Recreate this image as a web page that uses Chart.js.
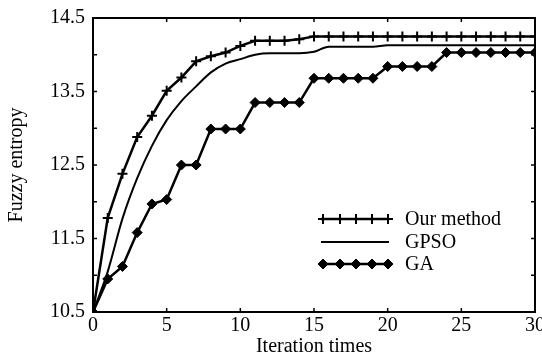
<!DOCTYPE html>
<html>
<head>
<meta charset="utf-8">
<script src="https://cdn.jsdelivr.net/npm/chart.js"></script>
<style>
    body { margin: 0; background: #fff; }
    #chart { display: block; }
</style>
</head>
<body>
<canvas id="chart" width="542" height="357"></canvas>
<script>
var iterations = [0, 1, 2, 3, 4, 5, 6, 7, 8, 9, 10, 11, 12, 13, 14, 15, 16, 17, 18, 19, 20, 21, 22, 23, 24, 25, 26, 27, 28, 29, 30];
var our_method = [10.5, 11.78, 12.38, 12.88, 13.17, 13.51, 13.69, 13.91, 13.98, 14.03, 14.12, 14.19, 14.19, 14.19, 14.21,
    14.25, 14.25, 14.25, 14.25, 14.25, 14.25, 14.25, 14.25, 14.25, 14.25, 14.25, 14.25, 14.25, 14.25, 14.25, 14.25];
var gpso = [10.5, 11.05, 11.77, 12.32, 12.76, 13.11, 13.37, 13.57, 13.76, 13.88, 13.94, 14.0, 14.02, 14.02, 14.02,
    14.04, 14.11, 14.11, 14.11, 14.11, 14.13, 14.13, 14.13, 14.13, 14.13, 14.13, 14.13, 14.13, 14.13, 14.13, 14.13];
var ga = [10.5, 10.95, 11.12, 11.58, 11.97, 12.03, 12.5, 12.5, 12.99, 12.99, 12.99, 13.35, 13.35, 13.35, 13.35,
    13.68, 13.68, 13.68, 13.68, 13.68, 13.84, 13.84, 13.84, 13.84, 14.03, 14.03, 14.03, 14.03, 14.03, 14.03, 14.03];
var series_names = ['Our method', 'GPSO', 'GA'];

var font_family = '"Liberation Serif", "Times New Roman", serif';

function to_points(values) {
    return iterations.map(function (x, i) { return { x: x, y: values[i] }; });
}

// frame round the plot, with ticks pointing inwards on all four sides
var frame_plugin = {
    id: 'frame',
    afterDraw: function (chart) {
        var ctx = chart.ctx;
        var a = chart.chartArea;
        var xs = chart.scales.x;
        var ys = chart.scales.y;
        ctx.save();
        ctx.strokeStyle = '#000';
        ctx.lineWidth = 1.5;
        xs.ticks.forEach(function (t) {
            if (t.value <= xs.min || t.value >= xs.max) return;
            var px = xs.getPixelForValue(t.value);
            ctx.beginPath();
            ctx.moveTo(px, a.bottom); ctx.lineTo(px, a.bottom - 4);
            ctx.moveTo(px, a.top); ctx.lineTo(px, a.top + 4);
            ctx.stroke();
        });
        ys.ticks.forEach(function (t) {
            if (t.value <= ys.min || t.value >= ys.max) return;
            var py = ys.getPixelForValue(t.value);
            ctx.beginPath();
            ctx.moveTo(a.left, py); ctx.lineTo(a.left + 4, py);
            ctx.moveTo(a.right, py); ctx.lineTo(a.right - 4, py);
            ctx.stroke();
        });
        ctx.lineWidth = 2;
        ctx.strokeRect(a.left, a.top, a.right - a.left, a.bottom - a.top);
        ctx.restore();
    }
};

// legend with several markers on each sample line, like the original
var legend_plugin = {
    id: 'marker_legend',
    afterDraw: function (chart) {
        var ctx = chart.ctx;
        var rows = [219, 242, 264];
        ctx.save();
        chart.data.datasets.forEach(function (ds, i) {
            var y = rows[i];
            ctx.strokeStyle = '#000';
            ctx.lineWidth = ds.borderWidth;
            ctx.beginPath();
            ctx.moveTo(321, y); ctx.lineTo(389, y);
            ctx.stroke();
            if (ds.pointRadius > 0) {
                [323, 340, 356, 372, 388].forEach(function (mx) {
                    ctx.fillStyle = '#000';
                    ctx.strokeStyle = '#000';
                    ctx.lineWidth = ds.pointBorderWidth;
                    Chart.helpers.drawPoint(ctx, {
                        pointStyle: ds.pointStyle,
                        radius: ds.pointRadius,
                        borderWidth: ds.pointBorderWidth,
                        rotation: 0
                    }, mx, y);
                });
            }
            ctx.fillStyle = '#000';
            ctx.font = '20px ' + font_family;
            ctx.textAlign = 'left';
            ctx.textBaseline = 'middle';
            ctx.fillText(series_names[i], 405, y + 1);
        });
        ctx.restore();
    }
};

var ctx = document.getElementById('chart');
var chart = new Chart(ctx, {
    type: 'line',
    data: {
        datasets: [
            {
                label: series_names[0],
                data: to_points(our_method),
                borderColor: '#000',
                backgroundColor: '#000',
                borderWidth: 2.5,
                pointStyle: 'cross',
                pointRadius: 5,
                pointBorderWidth: 2,
                pointBorderColor: '#000',
                fill: false
            },
            {
                label: series_names[1],
                data: to_points(gpso),
                borderColor: '#000',
                borderWidth: 2,
                pointRadius: 0,
                cubicInterpolationMode: 'monotone',
                fill: false
            },
            {
                label: series_names[2],
                data: to_points(ga),
                borderColor: '#000',
                backgroundColor: '#000',
                borderWidth: 2.5,
                pointStyle: 'rectRot',
                pointRadius: 5,
                pointBorderWidth: 1,
                pointBackgroundColor: '#000',
                pointBorderColor: '#000',
                fill: false
            }
        ]
    },
    options: {
        responsive: false,
        animation: false,
        devicePixelRatio: 1,
        layout: { padding: { left: 0, top: 18, right: 4, bottom: 0 } },
        plugins: {
            legend: { display: false },
            tooltip: { enabled: false }
        },
        scales: {
            x: {
                type: 'linear',
                min: 0,
                max: 30,
                border: { display: false },
                grid: { display: false, drawTicks: false },
                ticks: {
                    stepSize: 5,
                    padding: 2,
                    color: '#000',
                    maxRotation: 0,
                    font: { family: font_family, size: 20, lineHeight: 1.2 }
                },
                title: {
                    display: true,
                    text: 'Iteration times',
                    color: '#000',
                    padding: 0,
                    font: { family: font_family, size: 20, lineHeight: 1 }
                },
                afterFit: function (scale) {
                    scale.height = 45;
                    scale.paddingLeft = 0;
                    scale.paddingRight = 0;
                }
            },
            y: {
                min: 10.5,
                max: 14.5,
                border: { display: false },
                grid: { display: false, drawTicks: false },
                ticks: {
                    stepSize: 0.5,
                    padding: 8,
                    color: '#000',
                    font: { family: font_family, size: 20, lineHeight: 1.2 },
                    callback: function (v) {
                        return Math.abs(v - Math.floor(v) - 0.5) < 1e-6 ? v.toFixed(1) : '';
                    }
                },
                title: {
                    display: true,
                    text: 'Fuzzy entropy',
                    color: '#000',
                    padding: { top: 7, bottom: 0 },
                    font: { family: font_family, size: 20, lineHeight: 1 }
                },
                afterFit: function (scale) {
                    scale.width = 93;
                    scale.paddingTop = 0;
                    scale.paddingBottom = 0;
                }
            }
        }
    },
    plugins: [frame_plugin, legend_plugin]
});
</script>
</body>
</html>
